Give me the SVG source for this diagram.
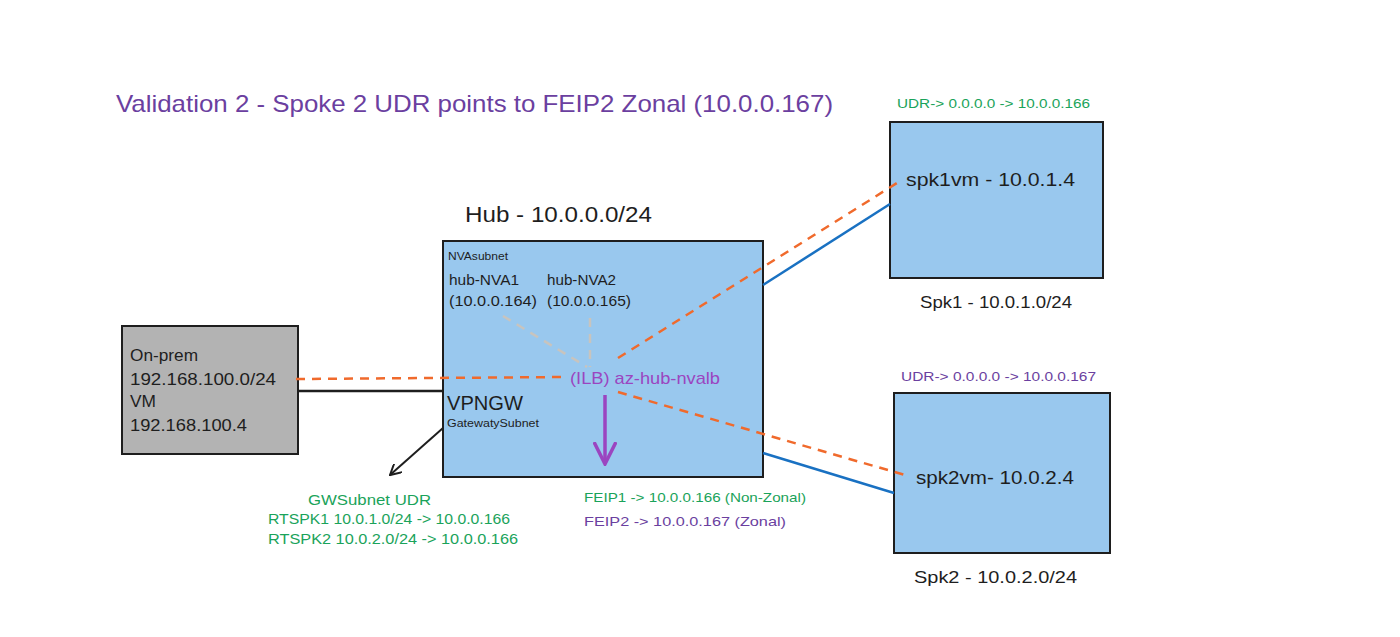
<svg xmlns="http://www.w3.org/2000/svg" width="1400" height="637" viewBox="0 0 1400 637">
<style>
text{font-family:"Liberation Sans","DejaVu Sans",sans-serif;fill:#1e1e1e}
.box{stroke:#1e1e1e;stroke-width:2}
.blue{fill:#99c8ee}
.grn{fill:#1aa35a}
.pur{fill:#6b3fa0}
.dash{stroke:#f06a2c;stroke-width:2.5;stroke-dasharray:9 7;fill:none}
.gray{stroke:#c8c4be;stroke-width:2.5;stroke-dasharray:9 7;fill:none}
.bl{stroke:#1971c2;stroke-width:2.5;fill:none}
</style>
<defs>
<marker id="ab" viewBox="0 0 12 12" refX="11" refY="6" markerWidth="12" markerHeight="12" markerUnits="userSpaceOnUse" orient="auto"><path d="M0 0 L11 6 L0 12" fill="none" stroke="#1e1e1e" stroke-width="2"/></marker>
<marker id="ap" viewBox="0 0 24 24" refX="22" refY="12" markerWidth="24" markerHeight="24" markerUnits="userSpaceOnUse" orient="auto"><path d="M0 1 L22 12 L0 23" fill="none" stroke="#9b45c0" stroke-width="3.5"/></marker>
</defs>
<rect width="1400" height="637" fill="#fff"/>
<text x="116" y="112" font-size="24" class="pur" textLength="717" lengthAdjust="spacingAndGlyphs">Validation 2 - Spoke 2 UDR points to FEIP2 Zonal (10.0.0.167)</text>
<g id="hub">
<rect x="443" y="241" width="320" height="236" class="box blue"/>
<text x="465" y="222" font-size="22" textLength="187" lengthAdjust="spacingAndGlyphs">Hub - 10.0.0.0/24</text>
<text x="448" y="260" font-size="10" textLength="60" lengthAdjust="spacingAndGlyphs">NVAsubnet</text>
<text x="449" y="285" font-size="15" textLength="70" lengthAdjust="spacingAndGlyphs">hub-NVA1</text>
<text x="449" y="306" font-size="15" textLength="88" lengthAdjust="spacingAndGlyphs">(10.0.0.164)</text>
<text x="547" y="285" font-size="15" textLength="69" lengthAdjust="spacingAndGlyphs">hub-NVA2</text>
<text x="547" y="306" font-size="15" textLength="84" lengthAdjust="spacingAndGlyphs">(10.0.0.165)</text>
<text x="447" y="410" font-size="20" textLength="76" lengthAdjust="spacingAndGlyphs">VPNGW</text>
<text x="447" y="427" font-size="10" textLength="92" lengthAdjust="spacingAndGlyphs">GatewatySubnet</text>
</g>
<g id="ilb">
<text x="570" y="384" font-size="17" style="fill:#9b45c0" textLength="150" lengthAdjust="spacingAndGlyphs">(ILB) az-hub-nvalb</text>
</g>
<g id="onprem">
<rect x="122" y="326" width="176" height="128" fill="#b3b3b3" class="box"/>
<text x="130" y="361" font-size="16" textLength="68" lengthAdjust="spacingAndGlyphs">On-prem</text>
<text x="130" y="385" font-size="17" textLength="146" lengthAdjust="spacingAndGlyphs">192.168.100.0/24</text>
<text x="130" y="407" font-size="16" textLength="26" lengthAdjust="spacingAndGlyphs">VM</text>
<text x="130" y="431" font-size="17" textLength="117" lengthAdjust="spacingAndGlyphs">192.168.100.4</text>
</g>
<g id="spk1">
<text x="897" y="108" font-size="13" class="grn" textLength="193" lengthAdjust="spacingAndGlyphs">UDR-&gt; 0.0.0.0 -&gt; 10.0.0.166</text>
<rect x="890" y="122" width="213" height="156" class="box blue"/>
<text x="906" y="186" font-size="19" textLength="169" lengthAdjust="spacingAndGlyphs">spk1vm - 10.0.1.4</text>
<text x="920" y="308" font-size="17" textLength="152" lengthAdjust="spacingAndGlyphs">Spk1 - 10.0.1.0/24</text>
</g>
<g id="spk2">
<text x="901" y="381" font-size="13" class="pur" textLength="195" lengthAdjust="spacingAndGlyphs">UDR-&gt; 0.0.0.0 -&gt; 10.0.0.167</text>
<rect x="894" y="393" width="216" height="160" class="box blue"/>
<text x="916" y="484" font-size="19" textLength="158" lengthAdjust="spacingAndGlyphs">spk2vm- 10.0.2.4</text>
<text x="914" y="583" font-size="17" textLength="163" lengthAdjust="spacingAndGlyphs">Spk2 - 10.0.2.0/24</text>
</g>
<g id="gwudr">
<text x="308" y="505" font-size="15" class="grn" textLength="123" lengthAdjust="spacingAndGlyphs">GWSubnet UDR</text>
<text x="268" y="524" font-size="15" class="grn" textLength="242" lengthAdjust="spacingAndGlyphs">RTSPK1 10.0.1.0/24 -&gt; 10.0.0.166</text>
<text x="268" y="544" font-size="15" class="grn" textLength="250" lengthAdjust="spacingAndGlyphs">RTSPK2 10.0.2.0/24 -&gt; 10.0.0.166</text>
</g>
<g id="feip">
<text x="584" y="502" font-size="13" class="grn" textLength="222" lengthAdjust="spacingAndGlyphs">FEIP1 -&gt; 10.0.0.166 (Non-Zonal)</text>
<text x="584" y="526" font-size="13" class="pur" textLength="202" lengthAdjust="spacingAndGlyphs">FEIP2 -&gt; 10.0.0.167 (Zonal)</text>
</g>
<g id="connectors">
<line x1="503" y1="316" x2="587" y2="367" class="gray"/>
<line x1="590" y1="318" x2="590" y2="367" class="gray"/>
<line x1="296" y1="379" x2="567" y2="377" class="dash"/>
<line x1="618" y1="358" x2="897" y2="183" class="dash"/>
<line x1="618" y1="392" x2="905" y2="475" class="dash"/>
<line x1="763" y1="285" x2="890" y2="204" class="bl"/>
<line x1="763" y1="453" x2="894" y2="493" class="bl"/>
<line x1="298" y1="391" x2="443" y2="391" stroke="#1e1e1e" stroke-width="2.5"/>
<line x1="443" y1="428" x2="390" y2="475" stroke="#1e1e1e" stroke-width="2" marker-end="url(#ab)"/>
<line x1="605" y1="395" x2="605" y2="464" stroke="#9b45c0" stroke-width="3.5" marker-end="url(#ap)"/>
</g>
</svg>
